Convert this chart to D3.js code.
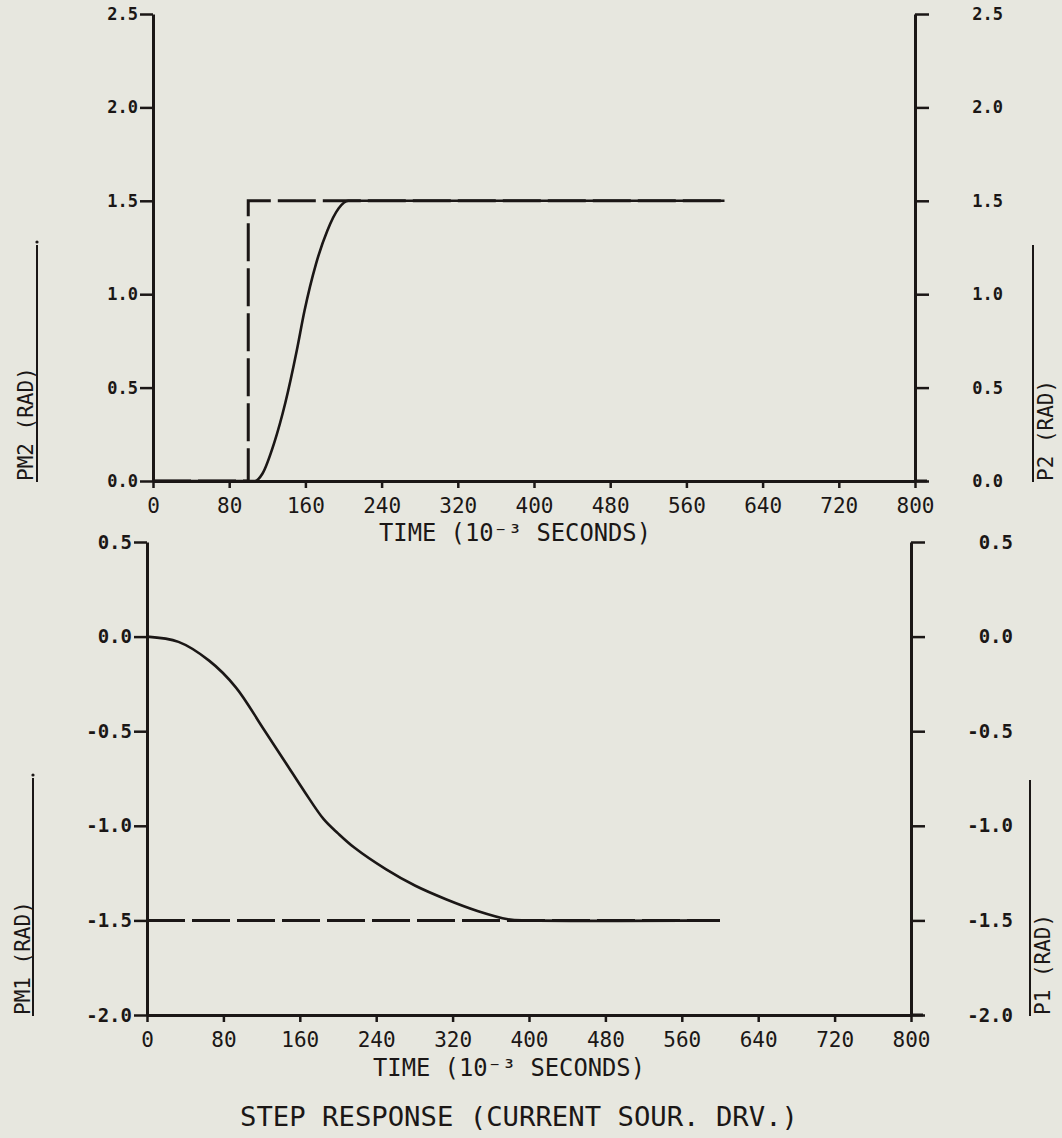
<!DOCTYPE html>
<html>
<head>
<meta charset="utf-8">
<script src="https://cdn.jsdelivr.net/npm/d3@7"></script>
<style>
  html, body { margin: 0; padding: 0; background: #e7e7df; }
  svg { display: block; }
  text { font-family: "DejaVu Sans Mono", "Liberation Mono", monospace; fill: #1b1716; }
</style>
</head>
<body>
<svg id="chart" width="1062" height="1138"></svg>
<script>
// ---- data ----
const timeTicks = [0, 80, 160, 240, 320, 400, 480, 560, 640, 720, 800];
const topYTicks = [0, 0.5, 1.0, 1.5, 2.0, 2.5];
const bottomYTicks = [-2.0, -1.5, -1.0, -0.5, 0.0, 0.5];

// top panel: PM2 (solid) and P2 (dashed step)
const pm2Time = [0, 107, 115, 127, 139, 151, 159, 171, 183, 195, 205, 600];
const pm2Val  = [0, 0, 0.04, 0.20, 0.42, 0.70, 0.91, 1.16, 1.34, 1.46, 1.5, 1.5];
const p2Time  = [0, 100, 100, 600];
const p2Val   = [0, 0, 1.5, 1.5];

// bottom panel: PM1 (solid) and P1 (dashed)
const pm1Time = [0, 33, 65, 93, 121, 145, 165, 185, 200, 217, 250, 281, 313, 346, 378, 400, 600];
const pm1Val  = [0, -0.028, -0.127, -0.268, -0.48, -0.665, -0.82, -0.965, -1.04, -1.115, -1.229, -1.317, -1.388, -1.45, -1.494, -1.5, -1.5];
const p1Time  = [0, 600];
const p1Val   = [-1.5, -1.5];

const xTitle = "TIME (10\u207B\u00B3 SECONDS)";
const mainTitle = "STEP RESPONSE (CURRENT SOUR. DRV.)";

// ---- drawing ----
const ink = "#1b1716";
const svg = d3.select("#chart");
svg.append("rect").attr("width", 1062).attr("height", 1138).attr("fill", "#e7e7df");

function zip(t, v) { return t.map((d, i) => ({ t: d, v: v[i] })); }

function panel(cfg) {
  const x = d3.scaleLinear().domain([0, 800]).range(cfg.xr);
  const y = d3.scaleLinear().domain(cfg.yd).range(cfg.yr);
  const g = svg.append("g");
  const fmt = d3.format(".1f");
  const lab = d => fmt(d).replace("\u2212", "-");

  const la = g.append("g").attr("transform", `translate(${x(0)},0)`)
    .call(d3.axisLeft(y).tickValues(cfg.yticks).tickSize(13).tickSizeOuter(0).tickPadding(2).tickFormat(lab));
  const ra = g.append("g").attr("transform", `translate(${x(800)},0)`)
    .call(d3.axisRight(y).tickValues(cfg.yticks).tickSize(14).tickSizeOuter(0).tickPadding(2).tickFormat(lab));
  ra.selectAll("text").attr("text-anchor", "end").attr("x", cfg.rLabEnd - x(800));
  const ba = g.append("g").attr("transform", `translate(0,${y(cfg.yd[0])})`)
    .call(d3.axisBottom(x).tickValues(timeTicks).tickSize(7).tickSizeOuter(0).tickPadding(10).tickFormat(d3.format("d")));
  g.append("line").attr("x1", x(800)).attr("x2", x(800) + 12)
    .attr("y1", y(cfg.yd[0])).attr("y2", y(cfg.yd[0]))
    .attr("stroke", ink).attr("stroke-width", 3);

  [la, ra, ba].forEach(a => {
    a.select(".domain").attr("stroke", ink).attr("stroke-width", 3);
    a.selectAll(".tick line").attr("stroke", ink).attr("stroke-width", 2.5);
  });
  la.selectAll("text").attr("font-size", cfg.yFont).attr("font-weight", "bold").attr("fill", ink);
  ra.selectAll("text").attr("font-size", cfg.yFont).attr("font-weight", "bold").attr("fill", ink);
  ba.selectAll("text").attr("font-size", 21).attr("fill", ink);

  const lineSolid = d3.line().x(d => x(d.t)).y(d => y(d.v)).curve(cfg.curve);
  const lineStep = d3.line().x(d => x(d.t)).y(d => y(d.v));
  g.append("path").datum(zip(cfg.dashT, cfg.dashV)).attr("d", lineStep)
    .attr("fill", "none").attr("stroke", ink).attr("stroke-width", 3)
    .attr("stroke-dasharray", "38,7");
  g.append("path").datum(zip(cfg.solidT, cfg.solidV)).attr("d", lineSolid)
    .attr("fill", "none").attr("stroke", ink).attr("stroke-width", 2.6);

  g.append("text").attr("x", cfg.xTitleX).attr("y", cfg.xTitleY)
    .attr("text-anchor", "middle").attr("font-size", 24)
    .attr("textLength", 272).attr("lengthAdjust", "spacingAndGlyphs")
    .text(xTitle);

  const base = y(cfg.yd[0]);
  cfg.ytitles.forEach(tt => {
    svg.append("text").attr("transform", `translate(${tt.tx},${base}) rotate(-90)`)
      .attr("text-anchor", "start").attr("font-size", 21).text(tt.label);
    svg.append("line").attr("x1", tt.lx).attr("x2", tt.lx)
      .attr("y1", base + 1).attr("y2", tt.top)
      .attr("stroke", ink).attr("stroke-width", 2);
    if (tt.dot) svg.append("circle").attr("cx", tt.lx).attr("cy", tt.top - 3).attr("r", 1.6).attr("fill", ink);
  });
}

panel({
  xr: [153, 915], yd: [0, 2.5], yr: [481, 14], yticks: topYTicks, yFont: 17, rLabEnd: 1003,
  solidT: pm2Time, solidV: pm2Val, dashT: p2Time, dashV: p2Val, curve: d3.curveMonotoneX,
  xTitleX: 515, xTitleY: 541,
  ytitles: [
    { label: "PM2 (RAD)", tx: 33, lx: 37, top: 245, dot: true },
    { label: "P2 (RAD)", tx: 1053, lx: 1033, top: 245, dot: false }
  ]
});

panel({
  xr: [147, 911], yd: [-2.0, 0.5], yr: [1015, 542], yticks: bottomYTicks, yFont: 19, rLabEnd: 1013,
  solidT: pm1Time, solidV: pm1Val, dashT: p1Time, dashV: p1Val, curve: d3.curveCatmullRom.alpha(0.5),
  xTitleX: 509, xTitleY: 1076,
  ytitles: [
    { label: "PM1 (RAD)", tx: 30, lx: 33, top: 778, dot: true },
    { label: "P1 (RAD)", tx: 1050, lx: 1030, top: 780, dot: false }
  ]
});

svg.append("text").attr("x", 519).attr("y", 1126).attr("text-anchor", "middle")
  .attr("font-size", 27).attr("textLength", 558).attr("lengthAdjust", "spacingAndGlyphs")
  .text(mainTitle);
</script>
</body>
</html>
